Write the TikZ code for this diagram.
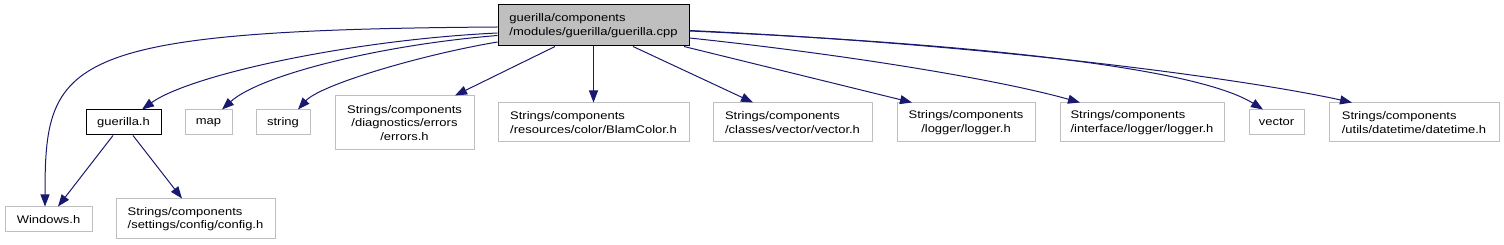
\documentclass[tikz,border=0pt]{standalone}
\usepackage{fontspec}
\setmainfont{Liberation Sans}[FakeStretch=1.18]
\usetikzlibrary{arrows.meta}
\definecolor{edgeblue}{RGB}{25,25,112}
\definecolor{boxgray}{RGB}{191,191,191}
\begin{document}
\begin{tikzpicture}[x=1pt,y=-1pt,
  every node/.style={font=\fontsize{11}{13.5}\selectfont, inner sep=0pt, line width=1pt},
  filebox/.style={draw=boxgray, fill=white, align=left},
  cfilebox/.style={draw=boxgray, fill=white, align=center},
  mainbox/.style={draw=black, fill=boxgray, align=left},
  hbox/.style={draw=black, fill=white, align=left},
  dep/.style={draw=edgeblue, line width=1pt, -{Triangle[length=12pt,width=9pt]}, edgeblue},
]
\useasboundingbox (0,0) rectangle (1504,245);
% nodes
\node[mainbox, minimum width=191pt, minimum height=41pt] (main) at (593.5,25.5) {guerilla/components\\/modules/guerilla/guerilla.cpp};
\node[hbox, minimum width=75pt, minimum height=25pt] (gh) at (123.5,122.5) {guerilla.h};
\node[filebox, minimum width=47pt, minimum height=25pt] (map) at (208.5,122.5) {map};
\node[filebox, minimum width=54pt, minimum height=25pt] (string) at (283,122.5) {string};
\node[cfilebox, minimum width=139pt, minimum height=54pt] (errors) at (404.5,123) {Strings/components\\/diagnostics/errors\\/errors.h};
\node[filebox, minimum width=191pt, minimum height=39pt] (blam) at (593.5,122.5) {Strings/components\\/resources/color/BlamColor.h};
\node[filebox, minimum width=159pt, minimum height=39pt] (vech) at (792.5,122.5) {Strings/components\\/classes/vector/vector.h};
\node[cfilebox, minimum width=138pt, minimum height=39pt] (logger) at (966,122.5) {Strings/components\\/logger/logger.h};
\node[filebox, minimum width=164pt, minimum height=39pt] (ilogger) at (1142,122.5) {Strings/components\\/interface/logger/logger.h};
\node[filebox, minimum width=55pt, minimum height=25pt] (vector) at (1276.5,122.5) {vector};
\node[filebox, minimum width=170pt, minimum height=39pt] (datetime) at (1414,122.5) {Strings/components\\/utils/datetime/datetime.h};
\node[filebox, minimum width=87pt, minimum height=25pt] (win) at (48.5,219.5) {Windows.h};
\node[filebox, minimum width=159pt, minimum height=40pt] (config) at (195.5,219) {Strings/components\\/settings/config/config.h};
% edges
\draw[dep] ([yshift=-1.5pt]main.west) .. controls (60,30) and (45,60) .. ([xshift=-3.5pt]win.north);
\draw[dep] ([yshift=-7.5pt]main.west) .. controls (350,40) and (190,75) .. ([xshift=18.5pt]gh.north);
\draw[dep] ([yshift=-10pt]main.west) .. controls (380,45) and (260,75) .. ([xshift=13.5pt]map.north);
\draw[dep] ([yshift=-16.5pt]main.west) .. controls (420,55) and (320,85) .. ([xshift=15pt]string.north);
\draw[dep] ([xshift=-38.5pt]main.south) -- ([xshift=50.5pt]errors.north);
\draw[dep] (main.south) -- (blam.north);
\draw[dep] ([xshift=39.5pt]main.south) -- ([xshift=-39.5pt]vech.north);
\draw[dep] ([xshift=90.5pt]main.south) -- ([xshift=-54pt]logger.north);
\draw[dep] ([yshift=-12.5pt]main.east) .. controls (850,55) and (1000,80) .. ([xshift=-62pt]ilogger.north);
\draw[dep] ([yshift=-5.5pt]main.east) .. controls (1000,45) and (1200,70) .. ([xshift=-13.5pt]vector.north);
\draw[dep] ([yshift=-5pt]main.east) .. controls (1000,45) and (1250,80) .. ([xshift=-62pt]datetime.north);
\draw[dep] ([xshift=-10.5pt]gh.south) -- ([xshift=9.5pt]win.north);
\draw[dep] ([xshift=9.5pt]gh.south) -- ([xshift=-13.5pt]config.north);
\end{tikzpicture}
\end{document}
